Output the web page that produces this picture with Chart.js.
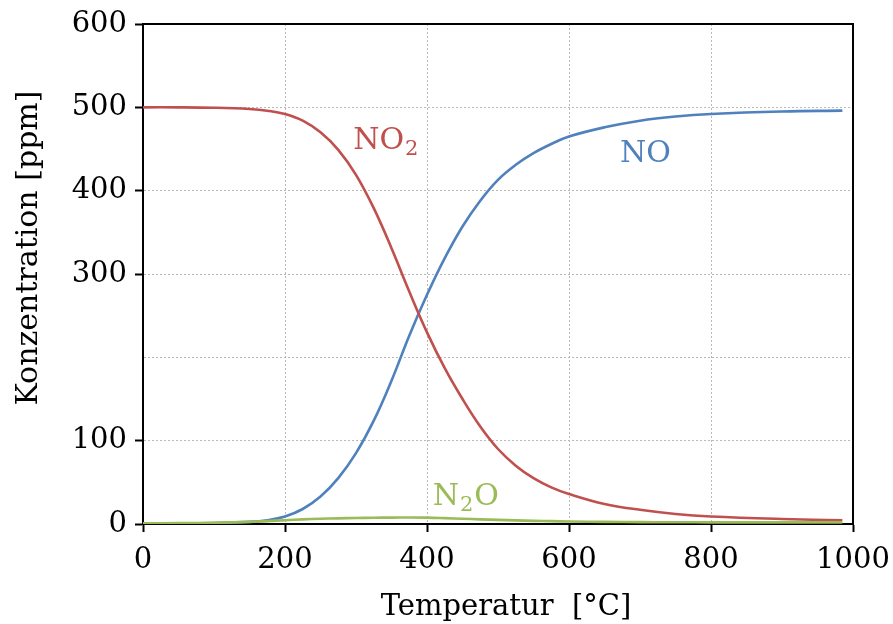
<!DOCTYPE html>
<html>
<head>
<meta charset="UTF-8">
<title>Konzentration vs Temperatur</title>
<script src="https://cdn.jsdelivr.net/npm/chart.js"></script>
<style>
    html, body { margin: 0; padding: 0; background: #fff; }
    .chart-container { position: relative; width: 893px; height: 624px; }
</style>
</head>
<body>
<div class="chart-container">
    <canvas id="chart" width="893" height="624"></canvas>
</div>
<script>
    const temps = [0, 50, 100, 150, 175, 200, 225, 250, 275, 300, 325, 350, 375, 400, 425, 450, 475, 500, 525, 550, 575, 600, 650, 700, 750, 800, 900, 985];
    // Concentrations [ppm]
    const no2 = [500, 500, 499.5, 498, 496, 492, 484, 470, 449, 419, 379, 331, 279, 230, 187, 150, 117, 90, 70, 55, 44, 36, 24, 17, 12, 9, 6, 4.5];
    const no  = [0.5, 0.7, 1.2, 2.5, 4.5, 9, 18, 33, 55, 85, 124, 172, 226, 275, 319, 357, 388, 413, 431, 445, 456, 465, 476, 484, 489, 492, 495, 496];
    const n2o = [0.8, 1, 1.5, 2.5, 3.5, 4.5, 5.5, 6.3, 6.8, 7.2, 7.5, 7.7, 7.8, 7.6, 7, 6.3, 5.6, 5, 4.4, 3.8, 3.4, 3, 2.6, 2.3, 2.1, 2, 2, 2];

    const seriesNames = ['NO₂', 'NO', 'N₂O'];
    const xTicks = [0, 200, 400, 600, 800, 1000];
    const yTicks = [0, 100, 200, 300, 400, 500, 600];
    const yHiddenLabels = [200];

    const colors = ['#c0504d', '#4f81bd', '#9bbb59'];
    const FONT = '"DejaVu Serif", serif';

    const toPoints = vals => temps.map((t, i) => ({ x: t, y: vals[i] }));

    // where the series names sit, in data coordinates (left edge, baseline)
    const seriesLabelAt = [
        { x: 296, y: 450 },
        { x: 672, y: 434 },
        { x: 408, y: 23 }
    ];

    const extras = {
        id: 'extras',
        afterDraw(chart) {
            const { ctx, chartArea: a, scales: { x, y } } = chart;
            ctx.save();

            // top and right frame
            ctx.strokeStyle = '#000';
            ctx.lineWidth = 2;
            ctx.beginPath();
            ctx.moveTo(a.left - 1, a.top);
            ctx.lineTo(a.right, a.top);
            ctx.lineTo(a.right, a.bottom + 1);
            ctx.stroke();

            // series names with subscripts
            ctx.textBaseline = 'alphabetic';
            ctx.textAlign = 'left';
            seriesNames.forEach((name, i) => {
                let px = x.getPixelForValue(seriesLabelAt[i].x);
                const py = y.getPixelForValue(seriesLabelAt[i].y);
                ctx.fillStyle = colors[i];
                name.split(/(₂)/).forEach(part => {
                    if (!part) return;
                    if (part === '₂') {
                        ctx.font = '21px ' + FONT;
                        ctx.fillText('2', px + 1, py + 6);
                        px += ctx.measureText('2').width + 2;
                    } else {
                        ctx.font = '30px ' + FONT;
                        ctx.fillText(part, px, py);
                        px += ctx.measureText(part).width;
                    }
                });
            });

            // axis titles
            ctx.fillStyle = '#000';
            ctx.font = '29px ' + FONT;
            ctx.textAlign = 'center';
            ctx.fillText('Temperatur  [°C]', 506, 615);

            ctx.translate(37, 248);
            ctx.rotate(-Math.PI / 2);
            ctx.font = '30px ' + FONT;
            ctx.fillText('Konzentration [ppm]', 0, 0);

            ctx.restore();
        }
    };

    const chart = new Chart(document.getElementById('chart'), {
        type: 'line',
        data: {
            datasets: [
                { label: seriesNames[2], data: toPoints(n2o), borderColor: colors[2], order: 0 },
                { label: seriesNames[0], data: toPoints(no2), borderColor: colors[0], order: 1 },
                { label: seriesNames[1], data: toPoints(no), borderColor: colors[1], order: 2 }
            ]
        },
        options: {
            responsive: false,
            animation: false,
            events: [],
            layout: { padding: { top: 24, right: 40, left: 0, bottom: 0 } },
            elements: {
                line: { borderWidth: 2.6, tension: 0.4, fill: false },
                point: { radius: 0 }
            },
            plugins: {
                legend: { display: false },
                tooltip: { enabled: false }
            },
            scales: {
                x: {
                    type: 'linear',
                    min: 0,
                    max: 1000,
                    afterBuildTicks: s => { s.ticks = xTicks.map(v => ({ value: v })); },
                    afterFit: s => { s.height = 100; s.paddingLeft = 0; s.paddingRight = 0; },
                    ticks: {
                        color: '#000',
                        font: { family: FONT, size: 29 },
                        padding: 11,
                        maxRotation: 0,
                        autoSkip: false,
                        callback: v => String(v)
                    },
                    grid: {
                        color: '#b8b8b8',
                        lineWidth: 1,
                        tickLength: 8,
                        tickColor: '#000',
                        tickWidth: 2,
                        tickBorderDash: []
                    },
                    border: { color: '#000', width: 2, dash: [2, 2] }
                },
                y: {
                    min: 0,
                    max: 600,
                    afterBuildTicks: s => { s.ticks = yTicks.map(v => ({ value: v })); },
                    afterFit: s => { s.width = 143; s.paddingTop = 0; s.paddingBottom = 0; },
                    ticks: {
                        color: '#000',
                        font: { family: FONT, size: 29 },
                        padding: 8,
                        autoSkip: false,
                        callback: v => yHiddenLabels.includes(v) ? '' : String(v)
                    },
                    grid: {
                        color: '#b8b8b8',
                        lineWidth: 1,
                        tickLength: 8,
                        tickColor: ctx => (ctx.tick && yHiddenLabels.includes(ctx.tick.value)) ? 'rgba(0,0,0,0)' : '#000',
                        tickWidth: 2,
                        tickBorderDash: []
                    },
                    border: { color: '#000', width: 2, dash: [2, 2] }
                }
            }
        },
        plugins: [extras]
    });
</script>
</body>
</html>
